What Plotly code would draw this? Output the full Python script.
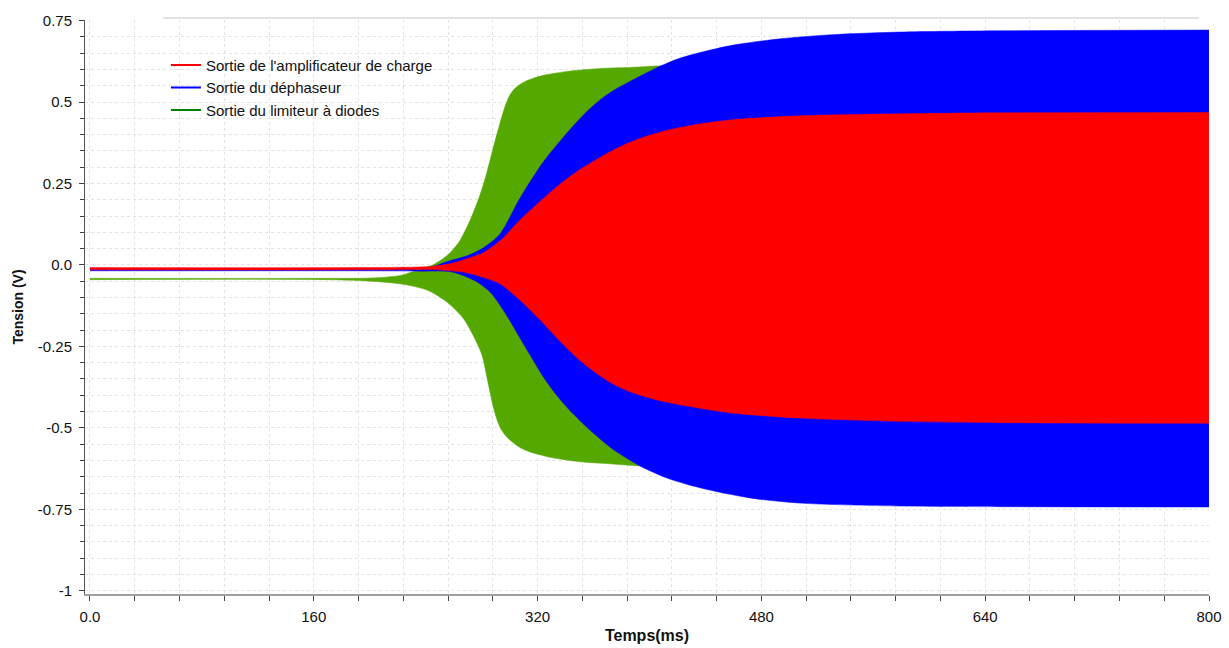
import plotly.graph_objects as go

# Envelopes (min/max) of the three oscillating outputs
# time in ms, voltage in V

# Sortie du limiteur à diodes (green)
t_lim_up = [0, 166, 200, 222, 236, 245, 252, 258, 264.5, 271.7, 278.8, 283.8, 288, 293.1,
            297, 300, 304, 310, 322, 341, 364.6, 388.2, 405.4, 450, 550, 650, 800]
v_lim_up = [-0.041, -0.041, -0.040, -0.032, -0.012, 0.0, 0.018, 0.04, 0.075, 0.137, 0.215,
            0.285, 0.355, 0.435, 0.49, 0.52, 0.543, 0.561, 0.58, 0.594, 0.603, 0.607, 0.611,
            0.615, 0.617, 0.618, 0.618]
t_lim_lo = [0, 166.6, 198, 221.6, 240.9, 255.2, 266.7, 273.8, 280.2, 284.5, 288, 291, 294,
            298, 302.4, 308, 314.6, 331, 350.3, 373.9, 393.2, 450, 550, 650, 800]
v_lim_lo = [-0.045, -0.045, -0.049, -0.058, -0.077, -0.114, -0.163, -0.215, -0.276, -0.36,
            -0.43, -0.475, -0.505, -0.528, -0.545, -0.562, -0.574, -0.592, -0.604, -0.611,
            -0.617, -0.619, -0.62, -0.62, -0.62]

# Sortie du déphaseur (blue)
t_dep_up = [0, 193, 236, 245, 255, 269.5, 281, 293.1, 307.4, 323.9, 341, 355, 365, 374,
            388, 405, 420, 436, 460, 495, 531, 579, 650, 800]
v_dep_up = [-0.012, -0.012, -0.01, -0.005, 0.01, 0.028, 0.052, 0.095, 0.205, 0.315, 0.405,
            0.47, 0.508, 0.535, 0.568, 0.605, 0.632, 0.652, 0.675, 0.695, 0.707, 0.715,
            0.719, 0.721]
t_dep_lo = [0, 193, 236, 259.5, 276.7, 286, 293.1, 300.3, 307.4, 314.6, 323.9, 332.4, 341,
            350.3, 359.6, 373.9, 393.2, 412.5, 436.1, 471.8, 507.6, 579.1, 650, 800]
v_dep_lo = [-0.018, -0.018, -0.019, -0.022, -0.052, -0.083, -0.123, -0.172, -0.224, -0.276,
            -0.342, -0.393, -0.437, -0.478, -0.515, -0.566, -0.617, -0.654, -0.684, -0.715,
            -0.731, -0.740, -0.742, -0.743]

# Sortie de l'amplificateur de charge (red)
t_amp_up = [0, 193, 236, 245, 257.4, 269.5, 281, 293.1, 307.4, 321.7, 336, 350, 364.6,
            376, 388, 400, 412, 436, 460, 508, 579, 650, 800]
v_amp_up = [-0.008, -0.008, -0.006, -0.004, 0.0035, 0.019, 0.037, 0.074, 0.138, 0.195,
            0.248, 0.292, 0.33, 0.357, 0.38, 0.398, 0.413, 0.433, 0.446, 0.458, 0.464,
            0.467, 0.468]
t_amp_lo = [0, 193, 236, 245, 257.4, 269.5, 281, 293.1, 307.4, 321.7, 336, 350.3, 364.6,
            376, 388, 400, 412, 436, 460, 508, 579, 650, 800]
v_amp_lo = [-0.015, -0.015, -0.014, -0.014, -0.018, -0.024, -0.038, -0.058, -0.108,
            -0.168, -0.234, -0.293, -0.340, -0.370, -0.392, -0.408, -0.421, -0.44, -0.455,
            -0.47, -0.48, -0.484, -0.486]

series = [
    ("Sortie du limiteur à diodes", t_lim_up, v_lim_up, t_lim_lo, v_lim_lo, "#55a800", "#008000"),
    ("Sortie du déphaseur", t_dep_up, v_dep_up, t_dep_lo, v_dep_lo, "#0000ff", "#0000ff"),
    ("Sortie de l'amplificateur de charge", t_amp_up, v_amp_up, t_amp_lo, v_amp_lo,
     "#ff0000", "#ff0000"),
]

fig = go.Figure()

# filled envelopes (lower edge, then upper edge filled down to it)
# green at the back, red in front
for name, tu, vu, tl, vl, fill_col, _ in series:
    fig.add_trace(go.Scatter(
        x=tl, y=vl, mode="lines",
        line=dict(color=fill_col, width=0.5, shape="spline", smoothing=0.8),
        showlegend=False, hoverinfo="skip",
    ))
    fig.add_trace(go.Scatter(
        x=tu, y=vu, mode="lines", fill="tonexty", fillcolor=fill_col,
        line=dict(color=fill_col, width=0.5, shape="spline", smoothing=0.8),
        showlegend=False, hoverinfo="skip",
    ))

# legend entries (order as in the reference)
for s in series[::-1]:
    fig.add_trace(go.Scatter(
        x=[None], y=[None], mode="lines", name=s[0],
        line=dict(color=s[6], width=2),
    ))

grid = dict(gridcolor="#e2e2e2", griddash="dot", gridwidth=1)

fig.update_layout(
    width=1229, height=648,
    margin=dict(l=85, r=20, t=20, b=54),
    plot_bgcolor="white",
    paper_bgcolor="white",
    font=dict(family="Liberation Sans, Arial, sans-serif", size=15, color="#111"),
    showlegend=True,
    legend=dict(
        x=0.072, y=0.95, xanchor="left", yanchor="top",
        traceorder="normal",
        bgcolor="rgba(0,0,0,0)",
        font=dict(size=15, color="#111"),
        tracegroupgap=0,
    ),
    xaxis=dict(
        range=[-3.57, 800],
        automargin=False,
        tickvals=[0, 160, 320, 480, 640, 800],
        ticktext=["0.0", "160", "320", "480", "640", "800"],
        ticks="outside", ticklen=5, tickcolor="#444",
        ticklabelstandoff=3,
        showline=True, linecolor="#a0a0a0", linewidth=2,
        zeroline=False,
        showgrid=True, **grid,
        minor=dict(tick0=0, dtick=32, ticks="outside", ticklen=5, tickcolor="#444",
                   showgrid=True, gridcolor="#e2e2e2", griddash="dot"),
        title=dict(text="Temps(ms)", font=dict(size=16, weight="bold"), standoff=6),
    ),
    yaxis=dict(
        range=[-1.010, 0.752],
        automargin=False,
        tickvals=[0.75, 0.5, 0.25, 0, -0.25, -0.5, -0.75, -1],
        ticktext=["0.75", "0.5", "0.25", "0.0", "-0.25", "-0.5", "-0.75", "-1"],
        ticks="outside", ticklen=5, tickcolor="#444",
        ticklabelstandoff=4,
        showline=True, linecolor="#555", linewidth=1,
        zeroline=False,
        showgrid=True, **grid,
        minor=dict(tick0=0, dtick=0.05, ticks="outside", ticklen=4, tickcolor="#444",
                   showgrid=True, gridcolor="#e2e2e2", griddash="dot"),
        title=dict(text="Tension (V)", font=dict(size=14, weight="bold"), standoff=10),
    ),
    shapes=[dict(type="line", xref="paper", yref="paper",
                 x0=0.0694, x1=0.991, y0=1.0035, y1=1.0035,
                 line=dict(color="#c4c8d0", width=1))],
)

# no default page margin, so the figure sits at the window's top-left corner
fig.write_html("out.html", config={"displayModeBar": False},
               post_script="document.body.style.margin='0';")
